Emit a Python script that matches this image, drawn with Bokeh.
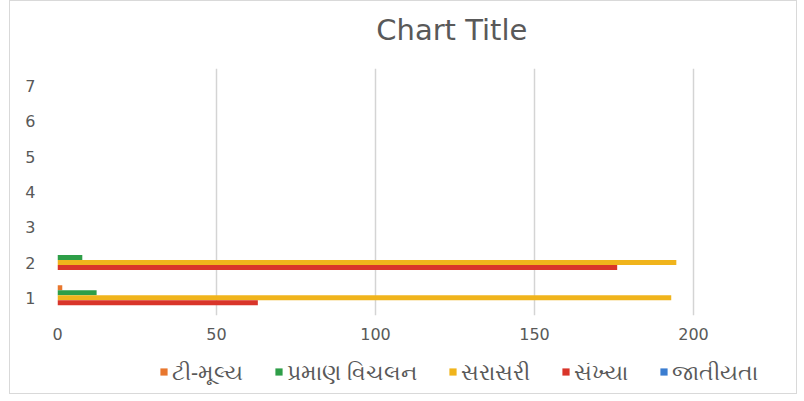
from bokeh.plotting import figure
from bokeh.models import ColumnDataSource, Legend, LegendItem, FixedTicker, Range1d, Label
from bokeh.layouts import column
from bokeh.transform import dodge
from bokeh.embed import file_html
from bokeh.resources import INLINE

categories = [1, 2, 3, 4, 5, 6, 7]
t_value = [1.5, 0, 0, 0, 0, 0, 0]
std_dev = [12.3, 7.8, 0, 0, 0, 0, 0]
mean_val = [193.0, 194.6, 0, 0, 0, 0, 0]
count = [63.0, 176.0, 0, 0, 0, 0, 0]
gender = [0, 0, 0, 0, 0, 0, 0]
series_names = ["ટી-મૂલ્ય", "પ્રમાણ વિચલન", "સરાસરી", "સંખ્યા", "જાતીયતા"]
series_keys = ["t", "sd", "mean", "n", "g"]
colors = ["#E8772E", "#2E9E48", "#F0B41C", "#D9352A", "#3B7DD0"]
x_ticks = [0, 50, 100, 150, 200]
chart_title = "Chart Title"

source = ColumnDataSource(dict(cat=categories, t=t_value, sd=std_dev,
                               mean=mean_val, n=count, g=gender))

W = 786
LEFT = 47
PX_PER_UNIT = 636 / 200.0
xr = Range1d(0, (W - LEFT) / PX_PER_UNIT)   # 0..200 spans 636 px; extra room on the right


def strip(height):
    f = figure(width=W, height=height, output_backend="svg", toolbar_location=None,
               x_range=xr, y_range=Range1d(0, 1),
               min_border_left=LEFT, min_border_right=0, min_border_top=0,
               min_border_bottom=0, x_axis_location=None, y_axis_location=None,
               background_fill_color="white", border_fill_color="white",
               outline_line_color=None)
    f.grid.visible = False
    return f


# title strip
pt = strip(56)
pt.add_layout(Label(x=124.0, y=0.5, text=chart_title, text_align="center",
                    text_baseline="middle", text_font="DejaVu Sans",
                    text_font_size="29px", text_color="#595959"))

# main chart
p = figure(width=W, height=296, output_backend="svg", toolbar_location=None,
           x_range=xr, y_range=Range1d(0.5, 7.5),
           min_border_left=LEFT, min_border_right=0, min_border_top=11,
           min_border_bottom=38, background_fill_color="white",
           border_fill_color="white", outline_line_color=None)

bar_h = 0.142
offsets = [2 * bar_h, bar_h, 0, -bar_h, -2 * bar_h]
for key, col, off in zip(series_keys, colors, offsets):
    p.hbar(y=dodge("cat", off, range=p.y_range), right=key, left=0,
           height=bar_h, source=source, fill_color=col, line_color=None)

p.xaxis.ticker = FixedTicker(ticks=x_ticks)
p.yaxis.ticker = FixedTicker(ticks=categories)
for ax in (p.xaxis, p.yaxis):
    ax.axis_line_color = None
    ax.major_tick_line_color = None
    ax.minor_tick_line_color = None
    ax.major_tick_in = 0
    ax.major_tick_out = 0
    ax.minor_tick_in = 0
    ax.minor_tick_out = 0
    ax.major_label_text_font = "DejaVu Sans"
    ax.major_label_text_font_size = "16px"
    ax.major_label_text_color = "#595959"
p.xaxis.major_label_standoff = 12
p.yaxis.major_label_standoff = 22

p.ygrid.grid_line_color = None
p.xgrid.grid_line_color = "#d4d4d4"
p.xgrid.grid_line_width = 1.5

# legend strip: same series styles; its y-range keeps the bars themselves out of view
pl = strip(40)
pl.y_range = Range1d(100, 101)
items = []
for key, name, col in zip(series_keys, series_names, colors):
    r = pl.hbar(y="cat", right=key, left=0, height=bar_h, source=source,
                fill_color=col, line_color=None)
    items.append(LegendItem(label=name, renderers=[r]))

legend = Legend(items=items, orientation="horizontal", location=(102, 7),
                label_text_font="Noto Sans", label_text_font_size="22px",
                label_text_color="#595959", glyph_width=9, glyph_height=9,
                spacing=31, label_standoff=4, padding=0, margin=0,
                border_line_color=None, background_fill_alpha=0)
pl.add_layout(legend, "center")

layout = column(pt, p, pl, spacing=0,
                styles={"border": "1px solid #d9d9d9", "margin-left": "9px"})

open("out.html", "w").write(file_html(layout, INLINE))
